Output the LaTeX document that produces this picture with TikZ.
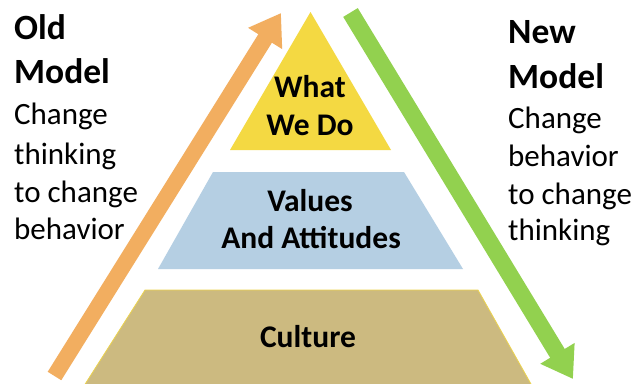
\documentclass[tikz,border=0pt]{standalone}
\usepackage{fontspec}
\setmainfont{Carlito}
\usetikzlibrary{arrows.meta}
\definecolor{orangeA}{HTML}{F2AE60}
\definecolor{greenA}{HTML}{92D14F}
\definecolor{yellowA}{HTML}{F4D942}
\definecolor{blueA}{HTML}{B5CFE3}
\definecolor{tanA}{HTML}{CCBA80}
\begin{document}
\begin{tikzpicture}[x=1pt,y=-1pt,
  side/.style={anchor=base west,inner sep=0pt,font=\fontsize{31}{31}\selectfont},
  sidehead/.style={anchor=base west,inner sep=0pt,font=\fontsize{35.5}{35.5}\selectfont\bfseries},
  layer/.style={anchor=base,inner sep=0pt,font=\fontsize{31.5}{31.5}\selectfont\bfseries},
  bigarrow/.style={line width=16pt,-{Triangle[length=30pt,width=38pt]}}]
\useasboundingbox (0,0) rectangle (636,383);
\clip (0,0) rectangle (636,383);
\fill[white] (0,0) rectangle (636,383);
% pyramid
\fill[yellowA] (310.5,12) -- (391,150) -- (230,150) -- cycle;
\fill[blueA] (213,172) -- (404,172) -- (463,269) -- (158,269) -- cycle;
\filldraw[fill=tanA,draw=yellowA!80!tanA,line width=0.8pt] (145,290) -- (478,290) -- (540,400) -- (75,400) -- cycle;
% arrows
\coordinate (oa) at (54.5,376);
\coordinate (ob) at (281,13);
\coordinate (ga) at (350.5,12.5);
\coordinate (gb) at (573,379);
\draw[bigarrow,orangeA] (oa) -- (ob);
\draw[bigarrow,greenA,line width=17pt] (ga) -- (gb);
% layer texts
\node[layer] (w1) at (310,97) {What};
\node[layer] (w2) at (310,135) {We Do};
\node[layer] (v1) at (310,211) {Values};
\node[layer] (v2) at (311,248) {And Attitudes};
\node[layer] (c1) at (308,347) {Culture};
% left texts
\node[sidehead] (l1) at (14,39) {Old};
\node[sidehead] (l2) at (14,83) {Model};
\node[side] (l3) at (14,124) {Change};
\node[side] (l4) at (14,164) {thinking};
\node[side] (l5) at (14,202) {to change};
\node[side] (l6) at (14,239) {behavior};
% right texts
\node[sidehead] (r1) at (508,43) {New};
\node[sidehead] (r2) at (508,88) {Model};
\node[side] (r3) at (508,128) {Change};
\node[side] (r4) at (508,166) {behavior};
\node[side] (r5) at (508,204) {to change};
\node[side] (r6) at (508,240) {thinking};
\end{tikzpicture}
\end{document}
